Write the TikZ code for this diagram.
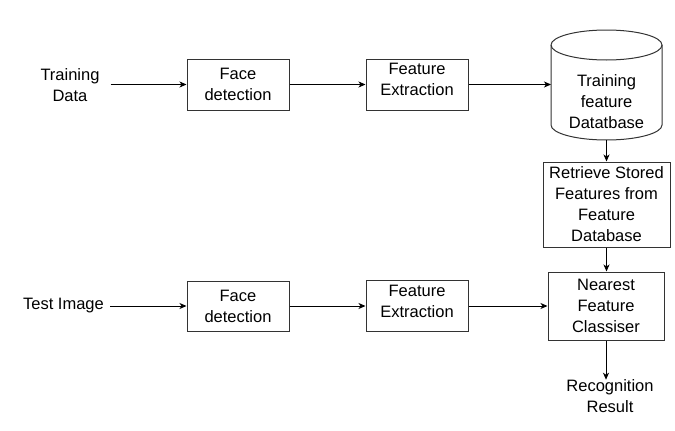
\documentclass[tikz,border=0pt]{standalone}
\usepackage{fontspec}
\setmainfont{Liberation Sans}
\usetikzlibrary{arrows.meta}
\tikzset{
  box/.style={draw=black!80, line width=1pt, inner sep=0pt, align=center},
  txt/.style={inner sep=0pt, align=center, font=\fontsize{16.5}{21}\selectfont},
  conn/.style={line width=1pt, -{Stealth[length=7pt,width=6pt,inset=2pt]}},
}
\begin{document}
\begin{tikzpicture}[x=1pt,y=1pt,yscale=-1]
\useasboundingbox (0,0) rectangle (675,431);
% top row
\node[txt] (td) at (70,85.5) {Training\\Data};
\node[box, txt, minimum width=102pt, minimum height=51pt] (fd1) at (238,84.5) {Face\\detection};
\node[box, minimum width=102pt, minimum height=51pt] (fe1) at (417,84.5) {};
\node[txt] (fe1t) at (417,79.5) {Feature\\Extraction};
% cylinder
\draw[draw=black!80, line width=1pt, fill=white]
  (551,45) -- (551,125) arc (180:0:55.5 and 15) -- (662,45) arc (0:-180:55.5 and 15) -- cycle;
\draw[draw=black!80, line width=1pt] (551,45) arc (180:0:55.5 and 15);
\node[inner sep=0pt, minimum width=111pt, minimum height=80pt] (db) at (606.5,100) {};
\node[txt] (dbt) at (606.5,102) {Training\\feature\\Datatbase};
\coordinate (dbbot) at (606.5,140);
% right column
\node[box, txt, minimum width=127pt, minimum height=85pt] (rs) at (606.5,204.5) {Retrieve Stored\\Features from\\Feature\\Database};
\node[box, txt, minimum width=116pt, minimum height=68pt] (nf) at (606,306) {Nearest\\Feature\\Classiser};
\node[txt] (rr) at (610,396.5) {Recognition\\Result};
% bottom row
\node[txt] (ti) at (63.5,306) {Test Image};
\node[box, txt, minimum width=102pt, minimum height=50pt] (fd2) at (238,306) {Face\\detection};
\node[box, minimum width=102pt, minimum height=51pt] (fe2) at (417,306) {};
\node[txt] (fe2t) at (417,301) {Feature\\Extraction};
% connectors
\draw[conn, shorten <=11pt] (td.east |- fd1.west) -- (fd1.west);
\draw[conn] (fd1.east) -- (fe1.west);
\draw[conn] (fe1.east) -- (551,84.5);
\draw[conn] (dbbot) -- (rs.north);
\draw[conn] (rs.south) -- (rs.south |- nf.north);
\draw[conn] (nf.south) -- (nf.south |- rr.north);
\draw[conn, shorten <=6pt] (ti.east |- fd2.west) -- (fd2.west);
\draw[conn] (fd2.east) -- (fe2.west);
\draw[conn] (fe2.east) -- (fe2.east -| nf.west);
\end{tikzpicture}
\end{document}
